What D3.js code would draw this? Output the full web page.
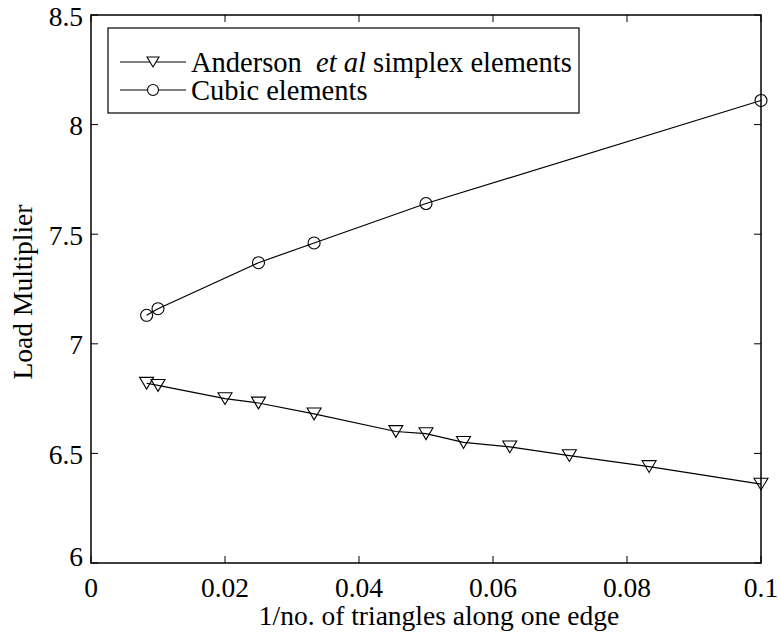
<!DOCTYPE html>
<html>
<head>
<meta charset="utf-8">
<script src="https://d3js.org/d3.v7.min.js"></script>
<style>
  body { margin: 0; background: #fff; }
</style>
</head>
<body>
<div id="graph-area"></div>
<script>
// simplex elements (Anderson et al)
const triX = [0.0083, 0.01, 0.02, 0.025, 0.0333, 0.0455, 0.05, 0.0556, 0.0625, 0.0714, 0.0833, 0.1];
const triY = [6.82, 6.81, 6.75, 6.73, 6.68, 6.60, 6.59, 6.55, 6.53, 6.49, 6.44, 6.36];
// cubic elements
const cubX = [0.0083, 0.01, 0.025, 0.0333, 0.05, 0.1];
const cubY = [7.13, 7.16, 7.37, 7.46, 7.64, 8.11];

const xTicks = [0, 0.02, 0.04, 0.06, 0.08, 0.1];
const yTicks = [6, 6.5, 7, 7.5, 8, 8.5];
const legendLabels = ["Anderson", "Cubic elements"];

const w = 779, h = 635;
const pLeft = 91, pRight = 761, pTop = 15, pBottom = 563;
const fs = 27.5;
const serif = "'Liberation Serif'";

const xScale = d3.scaleLinear().domain([0, 0.1]).range([pLeft, pRight]);
const yScale = d3.scaleLinear().domain([6, 8.5]).range([pBottom, pTop]);

const svg = d3.select("#graph-area").append("svg")
  .attr("width", w).attr("height", h);

function label(sel, size) {
  return sel.style("font-family", serif).style("font-size", (size || fs) + "px").attr("fill", "#000");
}

const tri = (s) => `M${-s/2},${-s*0.42}L${s/2},${-s*0.42}L0,${s*0.42}Z`;

// ticks inside on all four sides
const tk = 7;
xTicks.forEach(t => {
  svg.append("line").attr("x1", xScale(t)).attr("x2", xScale(t))
    .attr("y1", pBottom).attr("y2", pBottom - tk).attr("stroke", "#000");
  svg.append("line").attr("x1", xScale(t)).attr("x2", xScale(t))
    .attr("y1", pTop).attr("y2", pTop + tk).attr("stroke", "#000");
});
yTicks.forEach(t => {
  svg.append("line").attr("x1", pLeft).attr("x2", pLeft + tk)
    .attr("y1", yScale(t)).attr("y2", yScale(t)).attr("stroke", "#000");
  svg.append("line").attr("x1", pRight).attr("x2", pRight - tk)
    .attr("y1", yScale(t)).attr("y2", yScale(t)).attr("stroke", "#000");
});

// tick labels
svg.selectAll(".xl").data(xTicks).enter().append("text")
  .attr("x", d => xScale(d)).attr("y", 597)
  .attr("text-anchor", "middle")
  .call(label)
  .text(d => d);

svg.selectAll(".yl").data(yTicks).enter().append("text")
  .attr("x", 83).attr("y", d => yScale(d) + (d === 6 ? -7 : 1))
  .attr("dominant-baseline", "central")
  .attr("text-anchor", "end")
  .call(label)
  .text(d => d);

// axis titles
svg.append("text")
  .attr("x", 439).attr("y", 625)
  .attr("text-anchor", "middle")
  .call(label)
  .text("1/no. of triangles along one edge");

svg.append("text")
  .attr("transform", "translate(32," + 292 + ") rotate(-90)")
  .attr("text-anchor", "middle")
  .call(label)
  .text("Load Multiplier");

// lines
const line = d3.line().x(d => xScale(d[0])).y(d => yScale(d[1]));
const triData = triX.map((x, i) => [x, triY[i]]);
const cubData = cubX.map((x, i) => [x, cubY[i]]);

svg.append("path").datum(triData).attr("d", line)
  .attr("fill", "none").attr("stroke", "#000").attr("stroke-width", 1.2);
svg.append("path").datum(cubData).attr("d", line)
  .attr("fill", "none").attr("stroke", "#000").attr("stroke-width", 1.2);

svg.selectAll(".tri").data(triData).enter().append("path")
  .attr("transform", d => "translate(" + xScale(d[0]) + "," + yScale(d[1]) + ")")
  .attr("d", tri(14)).attr("fill", "none").attr("stroke", "#000").attr("stroke-width", 1.1);

svg.selectAll(".cub").data(cubData).enter().append("circle")
  .attr("cx", d => xScale(d[0])).attr("cy", d => yScale(d[1]))
  .attr("r", 6).attr("fill", "none").attr("stroke", "#000").attr("stroke-width", 1.1);

// axes box
svg.append("rect").attr("x", pLeft).attr("y", pTop)
  .attr("width", pRight - pLeft).attr("height", pBottom - pTop)
  .attr("fill", "none").attr("stroke", "#000").attr("stroke-width", 1.5);

// legend
const lg = svg.append("g");
lg.append("rect").attr("x", 108).attr("y", 28).attr("width", 471).attr("height", 85)
  .attr("fill", "#fff").attr("stroke", "#000").attr("stroke-width", 1.2);
[62, 90].forEach((yy, i) => {
  lg.append("line").attr("x1", 120).attr("x2", 186).attr("y1", yy).attr("y2", yy)
    .attr("stroke", "#000").attr("stroke-width", 1.1);
  if (i === 0) {
    lg.append("path").attr("transform", "translate(153," + yy + ")")
      .attr("d", tri(12)).attr("fill", "#fff").attr("stroke", "#000").attr("stroke-width", 1.1);
  } else {
    lg.append("circle").attr("cx", 153).attr("cy", yy).attr("r", 5.5)
      .attr("fill", "#fff").attr("stroke", "#000").attr("stroke-width", 1.1);
  }
});
const t1 = lg.append("text").attr("x", 191).attr("y", 62).attr("dominant-baseline", "central")
  .call(label, 28.5);
t1.append("tspan").text(legendLabels[0] + "\u00a0 ");
t1.append("tspan").style("font-style", "italic").text("et al");
t1.append("tspan").text(" simplex elements");
lg.append("text").attr("x", 191).attr("y", 90).attr("dominant-baseline", "central")
  .call(label, 28.5).text(legendLabels[1]);
</script>
</body>
</html>
